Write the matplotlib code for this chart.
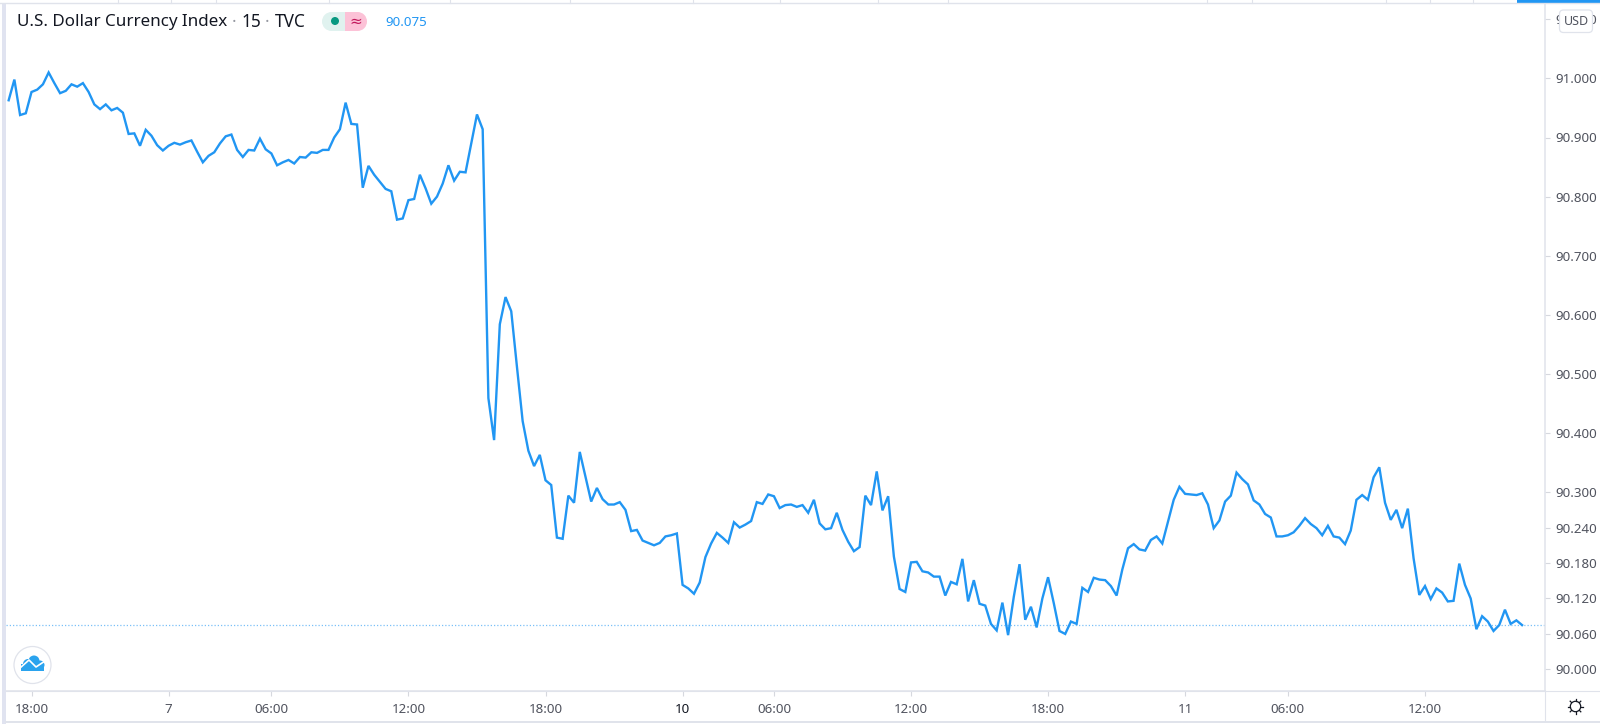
import matplotlib
matplotlib.use("Agg")
import matplotlib.pyplot as plt
from matplotlib.patches import Circle, FancyBboxPatch, Rectangle
import numpy as np

plt.rcParams['font.family'] = ['Noto Sans', 'DejaVu Sans']

# 15 minute closes
prices = [
    90.963, 90.998, 90.938, 90.941, 90.977, 90.981, 90.990, 91.010, 90.992, 90.975,
    90.979, 90.990, 90.986, 90.992, 90.977, 90.956, 90.948, 90.956, 90.946, 90.950,
    90.942, 90.906, 90.907, 90.886, 90.913, 90.903, 90.887, 90.878, 90.886, 90.891,
    90.888, 90.892, 90.895, 90.876, 90.858, 90.869, 90.875, 90.890, 90.902, 90.905,
    90.879, 90.867, 90.879, 90.878, 90.898, 90.880, 90.873, 90.853, 90.858, 90.862,
    90.856, 90.867, 90.866, 90.875, 90.874, 90.879, 90.879, 90.900, 90.914, 90.959,
    90.923, 90.922, 90.815, 90.852, 90.837, 90.825, 90.813, 90.809, 90.761, 90.763,
    90.794, 90.796, 90.837, 90.814, 90.788, 90.800, 90.822, 90.853, 90.827, 90.842,
    90.841, 90.890, 90.939, 90.914, 90.459, 90.388, 90.584, 90.630, 90.606, 90.512,
    90.420, 90.370, 90.344, 90.363, 90.320, 90.312, 90.223, 90.221, 90.294, 90.282,
    90.368, 90.326, 90.284, 90.307, 90.288, 90.279, 90.279, 90.283, 90.270, 90.234,
    90.236, 90.218, 90.214, 90.210, 90.214, 90.225, 90.227, 90.230, 90.143, 90.137,
    90.128, 90.147, 90.190, 90.213, 90.231, 90.223, 90.214, 90.249, 90.240, 90.245,
    90.251, 90.283, 90.280, 90.296, 90.293, 90.273, 90.278, 90.279, 90.275, 90.278,
    90.265, 90.287, 90.247, 90.237, 90.239, 90.265, 90.236, 90.216, 90.200, 90.207,
    90.294, 90.278, 90.335, 90.269, 90.293, 90.191, 90.136, 90.131, 90.181, 90.182,
    90.166, 90.164, 90.157, 90.157, 90.125, 90.148, 90.144, 90.187, 90.115, 90.151,
    90.111, 90.108, 90.077, 90.066, 90.113, 90.058, 90.123, 90.178, 90.084, 90.106,
    90.071, 90.120, 90.156, 90.112, 90.065, 90.060, 90.081, 90.077, 90.138, 90.131,
    90.155, 90.152, 90.151, 90.141, 90.125, 90.169, 90.205, 90.212, 90.203, 90.201,
    90.219, 90.225, 90.213, 90.250, 90.287, 90.309, 90.297, 90.296, 90.295, 90.298,
    90.279, 90.239, 90.252, 90.284, 90.294, 90.333, 90.322, 90.313, 90.286, 90.279,
    90.263, 90.257, 90.225, 90.225, 90.227, 90.232, 90.243, 90.256, 90.246, 90.239,
    90.227, 90.243, 90.225, 90.223, 90.212, 90.235, 90.287, 90.295, 90.287, 90.325,
    90.342, 90.282, 90.253, 90.270, 90.239, 90.272, 90.188, 90.126, 90.141, 90.119,
    90.137, 90.130, 90.115, 90.116, 90.179, 90.143, 90.120, 90.068, 90.090, 90.081,
    90.065, 90.075, 90.101, 90.077, 90.083, 90.075,
]
last_price = 90.075

x_tick_bars = [4, 28, 46, 70, 94, 118, 134, 158, 182, 206, 224, 248]
x_tick_labels = ['18:00', '7', '06:00', '12:00', '18:00', '10', '06:00', '12:00',
                 '18:00', '11', '06:00', '12:00']
y_ticks = [91.1, 91.0, 90.9, 90.8, 90.7, 90.6, 90.5, 90.4, 90.3,
           90.24, 90.18, 90.12, 90.06, 90.0]
title = 'U.S. Dollar Currency Index'
top_strip_ticks = [118, 171, 216, 329, 450, 570, 693, 780, 878, 948, 1207, 1252, 1386, 1430, 1473]

BLUE = '#2196f3'
GREY = '#50535e'
EDGE = '#e0e3eb'

W, H = 1600, 724
fig = plt.figure(figsize=(W / 100, H / 100), dpi=100, facecolor='white')

# plot box, in pixels of the screenshot
left, right, top, bottom = 6, 1544.5, 4, 691
ax = fig.add_axes([left / W, 1 - bottom / H, (right - left) / W, (bottom - top) / H])

bar_w = 5.711
first_bar = 8.67
ax.set_xlim((left - first_bar) / bar_w, (right - first_bar) / bar_w)
px_per_unit = 591
y_91 = 78.4
ax.set_ylim(91 - (bottom - y_91) / px_per_unit, 91 + (y_91 - top) / px_per_unit)

ax.axhline(last_price, color=BLUE, lw=0.9, ls=(0, (1, 1.6)), alpha=0.6)
ax.plot(np.arange(len(prices)), prices, color=BLUE, lw=1.7, solid_joinstyle='miter')

ax.yaxis.tick_right()
ax.set_yticks(y_ticks)
ax.set_yticklabels([f'{v:.3f}' for v in y_ticks])
ax.set_xticks(x_tick_bars)
ax.set_xticklabels(x_tick_labels)
ax.tick_params(axis='both', length=3.6, width=0.8, color='#d6d8de', labelsize=9.6, labelcolor=GREY)
ax.tick_params(axis='x', pad=5)
ax.tick_params(axis='y', pad=4.5)
for lab in ax.get_xticklabels():
    if lab.get_text() == '10':
        lab.set_fontweight('bold')
        lab.set_color('#131722')
for side in ['left', 'top']:
    ax.spines[side].set_visible(False)
for side in ['right', 'bottom']:
    ax.spines[side].set_color(EDGE)
    ax.spines[side].set_linewidth(1.1)

# screenshot furniture sits on a full size overlay in pixel coords
ov = fig.add_axes([0, 0, 1, 1], facecolor='none')
ov.set_xlim(0, W)
ov.set_ylim(H, 0)
ov.axis('off')

ov.add_patch(Rectangle((2, 3), 4, 721, color='#e0e3f0', lw=0))
ov.plot([0, W], [3.4, 3.4], color=EDGE, lw=1)
ov.plot([6, W], [721.5, 721.5], color=EDGE, lw=1.4)
ov.plot([6, W], [691, 691], color=EDGE, lw=0.8)
ov.plot([1544.5, 1544.5], [691, 721], color=EDGE, lw=0.8)
for tx in top_strip_ticks:
    ov.plot([tx, tx], [0, 3], color=EDGE, lw=0.8)
ov.add_patch(Rectangle((1517, 0), 83, 3, color=BLUE, lw=0))

ov.text(17, 22, title, fontsize=12.25, color='#131722', va='center', ha='left')
ov.text(234, 22, '·', fontsize=12.4, color='#9598a1', va='center', ha='center')
ov.text(251.5, 22, '15', fontsize=12.4, color='#131722', va='center', ha='center')
ov.text(267, 22, '·', fontsize=12.4, color='#9598a1', va='center', ha='center')
ov.text(275, 22, 'TVC', fontsize=12.4, color='#131722', va='center', ha='left')
ov.text(385, 23, f'{last_price:.3f}', fontsize=9.6, color=BLUE, va='center', ha='left')

# market status pill
pill_l = FancyBboxPatch((331, 12), 14, 19, boxstyle='round,pad=0,rounding_size=0', color='#e0f2ef', lw=0)
pill_r = FancyBboxPatch((345, 12), 13, 19, boxstyle='round,pad=0,rounding_size=0', color='#fcc2d7', lw=0)
ov.add_patch(pill_l)
ov.add_patch(pill_r)
ov.add_patch(Circle((331.5, 21.5), 9.5, color='#e0f2ef', lw=0))
ov.add_patch(Circle((357.5, 21.5), 9.5, color='#fcc2d7', lw=0))
ov.add_patch(Circle((335, 21), 4, color='#089981', lw=0))
ov.text(355.5, 21, '≈', fontsize=11, color='#c2185b', va='center', ha='center', family='DejaVu Sans')

# USD box over the hidden top label
ov.add_patch(FancyBboxPatch((1559.5, 10), 33, 22.5, boxstyle='round,pad=0,rounding_size=4',
                            fc='white', ec=EDGE, lw=0.9))
ov.text(1576, 21.5, 'USD', fontsize=9, color=GREY, va='center', ha='center')

# logo badge
ov.add_patch(Circle((32.5, 665), 18.5, fc='white', ec=EDGE, lw=0.9))
for cx, cy, r in [(28, 664, 5), (34, 661, 5.5), (40, 665, 4.5), (25, 667, 3.5)]:
    ov.add_patch(Circle((cx, cy), r, color='#2aa3ee', lw=0))
ov.add_patch(Rectangle((21, 664), 23, 7, color='#2aa3ee', lw=0))
ov.plot([20, 29, 36, 45], [668, 660, 667, 661], color='white', lw=1.2)

# settings gear
ov.add_patch(Circle((1575.5, 706.5), 5.2, fc='white', ec='#131722', lw=0.9))
for a in np.arange(8) * np.pi / 4:
    ov.plot([1575.5 + 5.5 * np.cos(a), 1575.5 + 7.5 * np.cos(a)],
            [706.5 + 5.5 * np.sin(a), 706.5 + 7.5 * np.sin(a)], color='#131722', lw=0.9)

fig.savefig('out.png', dpi=100, facecolor='white')
